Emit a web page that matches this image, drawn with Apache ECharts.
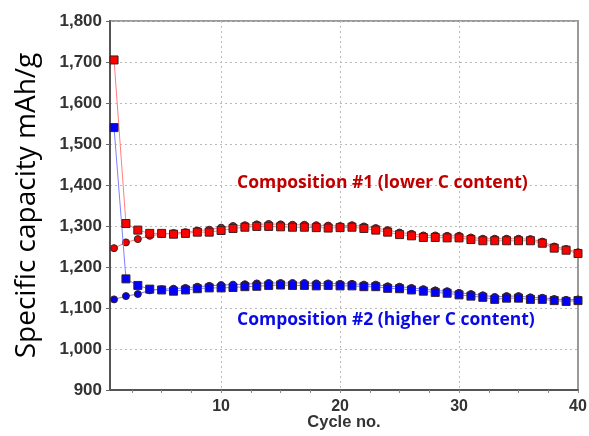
<!DOCTYPE html>
<html>
<head>
<meta charset="utf-8">
<script src="https://cdn.jsdelivr.net/npm/echarts@6/dist/echarts.min.js"></script>
<style>
  html, body { margin: 0; padding: 0; background: #fff; }
  #chart { width: 589px; height: 436px; }
</style>
</head>
<body>
<div id="chart"></div>
<script>
// Cycle numbers 1..40
const cycles = [1,2,3,4,5,6,7,8,9,10,11,12,13,14,15,16,17,18,19,20,
                21,22,23,24,25,26,27,28,29,30,31,32,33,34,35,36,37,38,39,40];

// Composition #1 (lower C content), mAh/g
const comp1Squares = [1705,1306,1290,1282,1282,1280,1282,1285,1285,1289,
                      1294,1297,1299,1299,1298,1297,1297,1296,1295,1296,
                      1297,1294,1290,1285,1279,1276,1272,1272,1271,1271,
                      1267,1264,1264,1264,1264,1264,1258,1246,1241,1233];
const comp1Circles = [1246,1260,1268,1276,1280,1283,1285,1289,1291,1296,
                      1300,1302,1304,1305,1304,1303,1303,1302,1301,1300,
                      1302,1299,1295,1290,1284,1281,1277,1277,1276,1276,
                      1272,1269,1269,1269,1269,1268,1262,1250,1244,1236];

// Composition #2 (higher C content), mAh/g
const comp2Squares = [1540,1171,1155,1146,1144,1141,1144,1147,1149,1149,
                      1150,1152,1153,1155,1156,1155,1155,1154,1155,1154,
                      1154,1152,1152,1148,1147,1144,1141,1138,1136,1132,
                      1129,1126,1121,1124,1124,1121,1121,1118,1116,1118];
const comp2Circles = [1121,1129,1134,1143,1146,1147,1149,1152,1154,1156,
                      1157,1158,1160,1161,1161,1161,1161,1160,1160,1159,
                      1159,1157,1157,1153,1152,1149,1146,1143,1141,1137,
                      1134,1131,1127,1129,1129,1126,1125,1122,1120,1121];

// Axis ticks
const xMin = 0.66, xMax = 40;
const xLabelValues = [10, 20, 30, 40];
const xGridValues = [10, 20, 30];
const xMinorTickValues = [2.5,5,7.5,10,12.5,15,17.5,20,22.5,25,27.5,30,32.5,35,37.5,40];
const yMin = 900, yMax = 1800, yStep = 100;

const labels = {
  comp1: 'Composition #1 (lower C content)',
  comp2: 'Composition #2 (higher C content)',
  xName: 'Cycle no.',
  yName: 'Specific capacity mAh/g'
};

const pairs = (ys) => cycles.map((c, i) => [c, ys[i]]);

function lineSeries(ys, symbol, size, fill, lineColor, z) {
  return {
    type: 'line',
    xAxisIndex: 0,
    data: pairs(ys),
    symbol: symbol,
    symbolSize: size,
    showAllSymbol: true,
    z: z,
    lineStyle: { color: lineColor, width: 1 },
    itemStyle: { color: fill, borderColor: '#3a2020', borderWidth: 1 },
    emphasis: { disabled: true },
    animation: false
  };
}

const chart = echarts.init(document.getElementById('chart'), null, { renderer: 'canvas' });

const tickFont = { fontFamily: 'Liberation Sans, Arial, sans-serif', fontWeight: 'bold', fontSize: 17, color: '#333' };
const gridLineStyle = { color: '#bbb', type: [2, 3], width: 1 };

chart.setOption({
  animation: false,
  grid: {
    left: 110, right: 11, top: 21, bottom: 46,
    outerBoundsMode: 'none',
    containLabel: false,
    show: true, borderColor: '#9a9a9a', borderWidth: 2, backgroundColor: '#fff'
  },
  xAxis: [
    {
      type: 'value',
      min: xMin, max: xMax,
      name: labels.xName,
      nameLocation: 'middle',
      nameGap: 24,
      nameMoveOverlap: false,
      nameTextStyle: Object.assign({}, tickFont, { fontSize: 16.5 }),
      axisLine: { show: true, lineStyle: { color: '#555', width: 2 } },
      // ticks here only position the dotted grid lines
      axisTick: { show: false, customValues: xGridValues },
      axisLabel: Object.assign({ customValues: xLabelValues, margin: 9 }, tickFont, { fontSize: 16 }),
      splitLine: { show: true, lineStyle: gridLineStyle }
    },
    {
      // minor ticks every 2.5 cycles
      type: 'value',
      position: 'bottom',
      min: xMin, max: xMax,
      axisLine: { show: false },
      axisTick: { show: true, customValues: xMinorTickValues, length: 3, lineStyle: { color: '#888' } },
      axisLabel: { show: false },
      splitLine: { show: false }
    }
  ],
  yAxis: {
    type: 'value',
    min: yMin, max: yMax, interval: yStep,
    name: labels.yName,
    nameLocation: 'middle',
    nameRotate: 90,
    nameGap: 69,
    nameMoveOverlap: false,
    nameTextStyle: { fontFamily: 'Open Sans, Noto Sans, sans-serif', fontSize: 28, color: '#000' },
    axisLine: { show: true, lineStyle: { color: '#555', width: 2 } },
    axisTick: { show: true, length: 4, lineStyle: { color: '#666' } },
    axisLabel: Object.assign({
      margin: 8,
      formatter: (v) => v.toLocaleString('en-US')
    }, tickFont),
    splitLine: { show: true, lineStyle: gridLineStyle }
  },
  series: [
    lineSeries(comp1Circles, 'circle', 7, '#ee0000', '#ff7a7a', 2),
    lineSeries(comp2Circles, 'circle', 7, '#0000ee', '#7a7aff', 2),
    lineSeries(comp1Squares, 'rect', 8, '#ff0000', '#ff8080', 3),
    lineSeries(comp2Squares, 'rect', 8, '#0000ff', '#8080ff', 3)
  ],
  graphic: [
    {
      type: 'text', left: 237, top: 174, z: 10,
      style: { text: labels.comp1, fill: '#c00000', font: 'bold 17.5px "Open Sans", "Noto Sans", sans-serif' }
    },
    {
      type: 'text', left: 237, top: 311, z: 10,
      style: { text: labels.comp2, fill: '#0a0ae6', font: 'bold 17.5px "Open Sans", "Noto Sans", sans-serif' }
    }
  ]
});
</script>
</body>
</html>
